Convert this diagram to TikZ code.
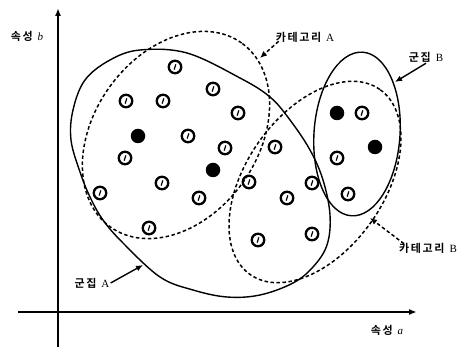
\documentclass[tikz,border=0pt]{standalone}
\usepackage{fontspec}
\usepackage{tikz}
\usetikzlibrary{arrows.meta}
\setmainfont{Liberation Serif}
\newfontfamily\kr{Noto Sans CJK KR}[BoldFont={Noto Sans CJK KR Bold}, LetterSpace=15]

\begin{document}
\begin{tikzpicture}[x=1pt, y=1pt,
    obs/.style={circle, draw, line width=2.3pt, minimum size=12.5pt, inner sep=0pt,
      path picture={\draw[line width=1.2pt] (path picture bounding box.center)
        ++(-0.8pt,-2.6pt) -- ++(1.6pt,5.2pt);}},
    obsfill/.style={circle, fill=black, minimum size=14.5pt, inner sep=0pt},
    lbl/.style={font=\fontsize{11}{13}\selectfont, inner sep=1pt},
    catline/.style={line width=1.5pt, dash pattern=on 3.5pt off 2.5pt},
    grpline/.style={line width=1.4pt}
  ]
    \useasboundingbox (0,0) rectangle (465,347);

    % axes
    \coordinate (ybot) at (58,0);
    \coordinate (ytop) at (58,339);
    \coordinate (xleft) at (18,35);
    \coordinate (xright) at (417,35);
    \draw[line width=1.7pt, -{Latex[length=8pt,width=6pt]}] (ybot) -- (ytop);
    \draw[line width=1.7pt, -{Latex[length=8pt,width=6pt]}] (xleft) -- (xright);
    \node[lbl] (attrb) at (27,311) {{\kr\bfseries 속성}\hspace{5pt}\textit{b}};
    \node[lbl] (attra) at (387,17) {{\kr\bfseries 속성}\hspace{5pt}\textit{a}};

    % cluster A
    \draw[grpline] plot[smooth cycle, tension=0.6] coordinates {
      (140,297) (187,294) (240,269) (270,250) (290,227) (310,197) (323,167)
      (330,132) (327,102) (313,80) (293,64) (260,52) (227,50) (193,57)
      (160,70) (123,104) (103,127) (90,150) (80,175) (71,207) (73,237)
      (85,267) (110,287)};
    % cluster B
    \draw[grpline, rotate around={86:(357,213)}] (357,213) ellipse [x radius=82, y radius=43];
    % category A and B
    \draw[catline, rotate around={54.5:(176,212)}] (176,212) ellipse [x radius=113, y radius=82];
    \draw[catline, rotate around={55:(315,165)}] (315,165) ellipse [x radius=113, y radius=69];

    % data points
    \foreach \x/\y [count=\i] in {175/280, 126/246, 163/246, 213/258, 238/234,
        188/211, 225/199, 275/200, 125/189, 162/164, 100/154, 199/149,
        149/119, 249/165, 287/149, 312/164, 258/107, 312/113, 362/234,
        337/189, 348/153}
      \node[obs] (p\i) at (\x,\y) {};
    \foreach \x/\y [count=\i] in {138/211, 213/177, 337/234, 375/200}
      \node[obsfill] (f\i) at (\x,\y) {};

    % labels
    \node[lbl] (catA) at (305,310) {{\kr\bfseries 카테고리}\hspace{5pt}A};
    \node[lbl] (grpB) at (426,290) {{\kr\bfseries 군집}\hspace{5pt}B};
    \node[lbl] (catB) at (428,99) {{\kr\bfseries 카테고리}\hspace{5pt}B};
    \node[lbl] (grpA) at (92,64) {{\kr\bfseries 군집}\hspace{5pt}A};

    \coordinate (tipcatA) at (260,289);
    \coordinate (tipgrpB) at (395,265);
    \coordinate (tipcatB) at (370,129);
    \coordinate (tipgrpA) at (143,82);
    \draw[catline, -{Latex[length=7pt,width=6pt]}] (catA.south west) ++(4pt,2pt) -- (tipcatA);
    \draw[grpline, -{Latex[length=7pt,width=6pt]}] (grpB.south) -- (tipgrpB);
    \draw[catline, -{Latex[length=7pt,width=6pt]}] (catB.north west) ++(6pt,-2pt) -- (tipcatB);
    \draw[grpline, -{Latex[length=7pt,width=6pt]}] (grpA.east) -- (tipgrpA);
  \end{tikzpicture}
\end{document}
